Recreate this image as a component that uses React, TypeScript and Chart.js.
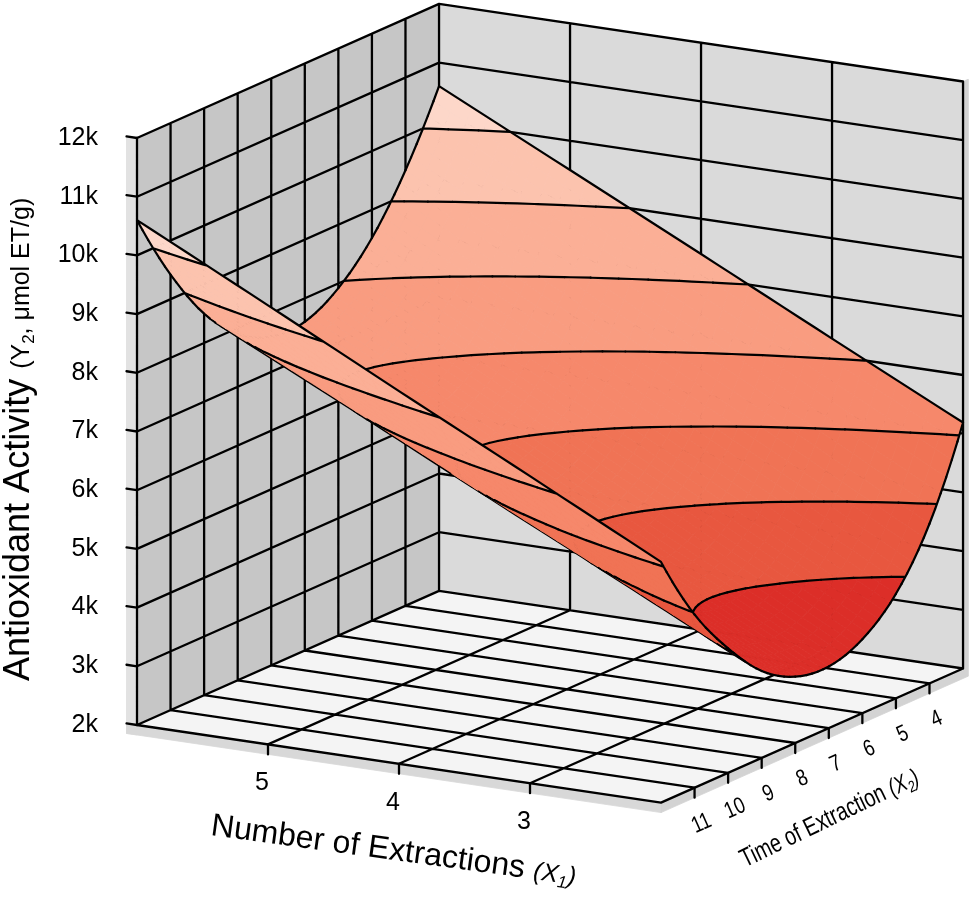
import React, { useEffect, useRef } from "react";
import { Chart, registerables } from "chart.js";

Chart.register(...registerables);

// X1: number of extractions, X2: time of extraction
const extractionCounts = [2, 3, 4, 5, 6];
const extractionTimes = [3, 4, 5, 6, 7, 8, 9, 10, 11, 12];

// Y2 antioxidant activity (µmol ET/g) read along X2 = 3..12, one list per X1
const activityAt2 = [6190, 4720, 3780, 3260, 3050, 3130, 3480, 4120, 4950, 6100];
const activityAt3 = [7290, 5900, 4970, 4430, 4190, 4250, 4590, 5220, 6070, 7230];
const activityAt4 = [8400, 7070, 6150, 5590, 5330, 5370, 5690, 6310, 7190, 8350];
const activityAt5 = [9500, 8250, 7340, 6760, 6460, 6480, 6800, 7410, 8300, 9480];
const activityAt6 = [10600, 9420, 8520, 7920, 7600, 7600, 7900, 8500, 9420, 10600];

const activityTicks = [2000, 3000, 4000, 5000, 6000, 7000, 8000, 9000, 10000, 11000, 12000];
const countTicks = [5, 4, 3];
const timeTicks = [11, 10, 9, 8, 7, 6, 5, 4];
const contourLevels = [3000, 4000, 5000, 6000, 7000, 8000, 9000, 10000, 11000];
const bandColors = [
  "#d02520", "#dc2e28", "#e8573f", "#f07355", "#f6886b",
  "#f99c80", "#fbaf96", "#fcc3ae", "#fdd7c9", "#fee6dc",
];

const activityRows = [activityAt2, activityAt3, activityAt4, activityAt5, activityAt6];

const FONT = '"Liberation Sans", Arial, Helvetica, sans-serif';
const W = 975;
const H = 899;

// orthographic view of the box, in pixels
const PX_X1 = 131; // per unit of X1 towards the front
const DY_X1 = 19.4;
const PX_X2 = 33.56; // per unit of X2 towards the back
const DY_X2 = -14.9;
const PX_PER_UNIT = 0.0587; // per µmol ET/g
const FLOOR_PX = 725; // row of the 2k tick
const CORNER_PX = 137; // column of the front edge of the left wall
const AXIS_W = 126;
const WALL_T1 = 0.08;
const WALL_T2 = 0.15;
const FLOOR_T = 170;
const SUB1 = 8;
const SUB2 = 6;
const GRID_W = 2.3;
const SURFACE_W = 2.2;

const X1_MIN = extractionCounts[0];
const X1_MAX = extractionCounts[extractionCounts.length - 1];
const X2_MIN = extractionTimes[0];
const X2_MAX = extractionTimes[extractionTimes.length - 1];
const Y_MIN = activityTicks[0];
const Y_MAX = activityTicks[activityTicks.length - 1];

type Pt = { x: number | null; y: number | null };
type Node = { x1: number; x2: number; z: number; d: number };
type Layer = { kind: "fill"; color: string; paths: Pt[][] } | { kind: "line"; paths: Pt[][]; width: number };

function project(x1: number, x2: number, y: number): Pt {
  const p = X1_MAX - x1;
  const q = X2_MAX - x2;
  return { x: p * PX_X1 + q * PX_X2, y: y - (p * DY_X1 + q * DY_X2) / PX_PER_UNIT };
}

type V3 = [number, number, number];
const seg = (a: V3, b: V3): Pt[] => [project(...a), project(...b)];
const poly = (cs: V3[]): Pt[] => {
  const p = cs.map((c) => project(...c));
  return [...p, p[0]];
};

function joinPaths(paths: Pt[][]): Pt[] {
  const out: Pt[] = [];
  paths.forEach((p, i) => {
    if (i) out.push({ x: null, y: null });
    out.push(...p);
  });
  return out;
}

// smooth sampler over the read grid (Catmull-Rom)
function makeSampler() {
  const extend = (a: number[]) => {
    const n = a.length;
    return [3 * a[0] - 3 * a[1] + a[2], ...a, 3 * a[n - 1] - 3 * a[n - 2] + a[n - 3]];
  };
  const rows = activityRows.map(extend);
  const n = rows.length;
  const ghost = (r0: number[], r1: number[], r2: number[]) => r0.map((_, k) => 3 * r0[k] - 3 * r1[k] + r2[k]);
  const ext = [ghost(rows[0], rows[1], rows[2]), ...rows, ghost(rows[n - 1], rows[n - 2], rows[n - 3])];
  const cr = (p0: number, p1: number, p2: number, p3: number, f: number) =>
    p1 + 0.5 * f * (p2 - p0 + f * (2 * p0 - 5 * p1 + 4 * p2 - p3 + f * (3 * (p1 - p2) + p3 - p0)));
  const ni = activityRows.length - 1;
  const nj = extractionTimes.length - 1;
  return (s: number, t: number) => {
    const i = Math.max(0, Math.min(ni - 1, Math.floor(s)));
    const j = Math.max(0, Math.min(nj - 1, Math.floor(t)));
    const fi = s - i;
    const fj = t - j;
    const c = [0, 1, 2, 3].map((k) => {
      const r = ext[i + k];
      return cr(r[j], r[j + 1], r[j + 2], r[j + 3], fj);
    });
    return cr(c[0], c[1], c[2], c[3], fi);
  };
}

const lerpNode = (A: Node, B: Node, f: number): Node => ({
  x1: A.x1 + f * (B.x1 - A.x1),
  x2: A.x2 + f * (B.x2 - A.x2),
  z: A.z + f * (B.z - A.z),
  d: A.d + f * (B.d - A.d),
});

function clipNodes(pg: Node[], level: number, above: boolean): Node[] {
  const out: Node[] = [];
  const inside = (n: Node) => (above ? n.z >= level : n.z <= level);
  for (let k = 0; k < pg.length; k++) {
    const A = pg[k];
    const B = pg[(k + 1) % pg.length];
    const ia = inside(A);
    const ib = inside(B);
    if (ia) out.push(A);
    if (ia !== ib) out.push(lerpNode(A, B, (level - A.z) / (B.z - A.z)));
  }
  return out;
}

function march(quad: Node[], key: (n: Node) => number, level: number): Node[][] {
  const pts: Node[] = [];
  for (let k = 0; k < 4; k++) {
    const A = quad[k];
    const B = quad[(k + 1) % 4];
    const ka = key(A);
    const kb = key(B);
    if (ka >= level !== kb >= level) pts.push(lerpNode(A, B, (level - ka) / (kb - ka)));
  }
  const segs: Node[][] = [];
  if (pts.length >= 2) segs.push([pts[0], pts[1]]);
  if (pts.length === 4) segs.push([pts[2], pts[3]]);
  return segs;
}

const toPts = (ns: Node[]) => ns.map((n) => project(n.x1, n.x2, n.z));
const bandOf = (z: number) => contourLevels.filter((l) => z >= l).length;

function buildBox(): Layer[] {
  const layers: Layer[] = [];
  const faces: [string, V3[]][] = [
    ["#e2e2e2", [[X1_MAX, X2_MAX, Y_MAX], [X1_MAX + WALL_T1, X2_MAX, Y_MAX], [X1_MAX + WALL_T1, X2_MAX, Y_MIN - FLOOR_T], [X1_MAX, X2_MAX, Y_MIN - FLOOR_T]]],
    ["#d8d8d8", [[X1_MAX + WALL_T1, X2_MAX, Y_MIN], [X1_MIN, X2_MAX, Y_MIN], [X1_MIN, X2_MAX, Y_MIN - FLOOR_T], [X1_MAX + WALL_T1, X2_MAX, Y_MIN - FLOOR_T]]],
    ["#d3d3d3", [[X1_MIN, X2_MAX, Y_MIN], [X1_MIN, X2_MIN - WALL_T2, Y_MIN], [X1_MIN, X2_MIN - WALL_T2, Y_MIN - FLOOR_T], [X1_MIN, X2_MAX, Y_MIN - FLOOR_T]]],
    ["#d3d3d3", [[X1_MIN, X2_MIN, Y_MAX], [X1_MIN, X2_MIN - WALL_T2, Y_MAX], [X1_MIN, X2_MIN - WALL_T2, Y_MIN], [X1_MIN, X2_MIN, Y_MIN]]],
    ["#c6c6c6", [[X1_MAX, X2_MAX, Y_MIN], [X1_MAX, X2_MIN, Y_MIN], [X1_MAX, X2_MIN, Y_MAX], [X1_MAX, X2_MAX, Y_MAX]]],
    ["#dadada", [[X1_MAX, X2_MIN, Y_MIN], [X1_MIN, X2_MIN, Y_MIN], [X1_MIN, X2_MIN, Y_MAX], [X1_MAX, X2_MIN, Y_MAX]]],
    ["#f4f4f4", [[X1_MAX, X2_MAX, Y_MIN], [X1_MIN, X2_MAX, Y_MIN], [X1_MIN, X2_MIN, Y_MIN], [X1_MAX, X2_MIN, Y_MIN]]],
  ];
  faces.forEach(([color, cs]) => layers.push({ kind: "fill", color, paths: [poly(cs)] }));

  const grid: Pt[][] = [];
  extractionTimes.forEach((t) => {
    grid.push(seg([X1_MAX, t, Y_MIN], [X1_MAX, t, Y_MAX]));
    grid.push(seg([X1_MAX, t, Y_MIN], [X1_MIN, t, Y_MIN]));
  });
  extractionCounts.forEach((c) => {
    grid.push(seg([c, X2_MIN, Y_MIN], [c, X2_MIN, Y_MAX]));
    grid.push(seg([c, X2_MAX, Y_MIN], [c, X2_MIN, Y_MIN]));
  });
  activityTicks.forEach((v) => {
    grid.push(seg([X1_MAX, X2_MAX, v], [X1_MAX, X2_MIN, v]));
    grid.push(seg([X1_MAX, X2_MIN, v], [X1_MIN, X2_MIN, v]));
  });
  layers.push({ kind: "line", paths: grid, width: GRID_W });

  const ticks: Pt[][] = [];
  activityTicks.forEach((v) => ticks.push(seg([X1_MAX + WALL_T1, X2_MAX, v], [X1_MAX, X2_MAX, v])));
  countTicks.forEach((c) => ticks.push(seg([c, X2_MAX, Y_MIN], [c, X2_MAX, Y_MIN - FLOOR_T])));
  timeTicks.forEach((t) => ticks.push(seg([X1_MIN, t, Y_MIN], [X1_MIN, t, Y_MIN - FLOOR_T])));
  layers.push({ kind: "line", paths: ticks, width: GRID_W });
  return layers;
}

function buildSurface(): Layer[] {
  const sample = makeSampler();
  const ni = activityRows.length - 1;
  const nj = extractionTimes.length - 1;
  const step1 = (X1_MAX - X1_MIN) / ni;
  const step2 = (X2_MAX - X2_MIN) / nj;
  const NA = ni * SUB1;
  const NB = nj * SUB2;
  const h = 1e-3;
  const nodes: Node[][] = [];
  for (let b = 0; b <= NB; b++) {
    const row: Node[] = [];
    for (let a = 0; a <= NA; a++) {
      const s = a / SUB1;
      const t = b / SUB2;
      const z = sample(s, t);
      const z1 = (sample(s + h, t) - sample(s - h, t)) / (2 * h * step1);
      const z2 = (sample(s, t + h) - sample(s, t - h)) / (2 * h * step2);
      // screen-space fold indicator (sign change = silhouette)
      const d = PX_X1 * (DY_X2 + z2 * PX_PER_UNIT) - PX_X2 * (DY_X1 + z1 * PX_PER_UNIT);
      row.push({ x1: X1_MIN + s * step1, x2: X2_MIN + t * step2, z, d });
    }
    nodes.push(row);
  }

  // strips from the back (short times) to the front
  const layers: Layer[] = [];
  let pending: Pt[][] = [];
  for (let b = 0; b < NB; b++) {
    const fills = new Map<number, Pt[][]>();
    const lines: Pt[][] = [];
    for (let a = 0; a < NA; a++) {
      const quad = [nodes[b][a], nodes[b][a + 1], nodes[b + 1][a + 1], nodes[b + 1][a]];
      const zs = quad.map((n) => n.z);
      const lo = bandOf(Math.min(...zs));
      const hi = bandOf(Math.max(...zs));
      for (let k = lo; k <= hi; k++) {
        let piece = quad;
        if (k > lo) piece = clipNodes(piece, contourLevels[k - 1], true);
        if (k < hi) piece = clipNodes(piece, contourLevels[k], false);
        if (piece.length < 3) continue;
        const p = toPts(piece);
        if (!fills.has(k)) fills.set(k, []);
        fills.get(k)!.push([...p, p[0]]);
      }
      for (let k = lo; k < hi; k++) march(quad, (n) => n.z, contourLevels[k]).forEach((sg) => lines.push(toPts(sg)));
      march(quad, (n) => n.d, 0).forEach((sg) => lines.push(toPts(sg)));
      if (a === 0) lines.push(toPts([quad[0], quad[3]]));
      if (a === NA - 1) lines.push(toPts([quad[1], quad[2]]));
      if (b === 0) lines.push(toPts([quad[0], quad[1]]));
      if (b === NB - 1) lines.push(toPts([quad[3], quad[2]]));
    }
    [...fills.keys()]
      .sort((p, q) => p - q)
      .forEach((k) => layers.push({ kind: "fill", color: bandColors[k], paths: fills.get(k)! }));
    if (pending.length) layers.push({ kind: "line", paths: pending, width: SURFACE_W });
    pending = lines;
  }
  if (pending.length) layers.push({ kind: "line", paths: pending, width: SURFACE_W });
  return layers;
}

type Run = { text: string; size: number; italic?: boolean; dy?: number };

function drawRuns(ctx: CanvasRenderingContext2D, x: number, y: number, angle: number, runs: Run[], sx = 1) {
  ctx.save();
  ctx.translate(x, y);
  ctx.rotate(angle);
  ctx.scale(sx, 1);
  ctx.textAlign = "left";
  ctx.textBaseline = "alphabetic";
  let pos = 0;
  runs.forEach((r) => {
    ctx.font = `${r.italic ? "italic " : ""}${r.size}px ${FONT}`;
    ctx.fillText(r.text, pos, r.dy ?? 0);
    pos += ctx.measureText(r.text).width;
  });
  ctx.restore();
}

const axisText = {
  id: "axisText",
  afterDraw(chart: Chart) {
    const { ctx } = chart;
    const sx = chart.scales.x;
    const sy = chart.scales.y;
    const toPx = (x1: number, x2: number, v: number): [number, number] => {
      const p = project(x1, x2, v);
      return [sx.getPixelForValue(p.x as number), sy.getPixelForValue(p.y as number)];
    };
    ctx.save();
    ctx.fillStyle = "#000";

    ctx.font = `25px ${FONT}`;
    ctx.textAlign = "center";
    ctx.textBaseline = "middle";
    countTicks.forEach((c) => {
      const [px, py] = toPx(c, X2_MAX, Y_MIN);
      ctx.fillText(String(c), px - 6, py + 39);
    });

    const timeAngle = Math.atan2(DY_X2, PX_X2);
    timeTicks.forEach((t) => {
      const [px, py] = toPx(X1_MIN, t, Y_MIN);
      ctx.save();
      ctx.translate(px + 7, py + 36);
      ctx.rotate(timeAngle);
      ctx.scale(0.8, 1);
      ctx.font = `23px ${FONT}`;
      ctx.fillText(String(t), 0, 0);
      ctx.restore();
    });

    const [lx, ly] = toPx(X1_MAX, X2_MAX, Y_MIN);
    drawRuns(ctx, lx - 108, ly - 44, -Math.PI / 2, [
      { text: "Antioxidant Activity ", size: 36 },
      { text: "(Y", size: 25 },
      { text: "2", size: 17, dy: 5 },
      { text: ", μmol ET/g)", size: 25 },
    ]);

    drawRuns(ctx, lx + 73, ly + 110, 0.135, [
      { text: "Number of Extractions ", size: 32 },
      { text: "(X", size: 25, italic: true },
      { text: "1", size: 17, italic: true, dy: 5 },
      { text: ")", size: 25, italic: true },
    ]);

    const [fx, fy] = toPx(X1_MIN, X2_MAX, Y_MIN);
    drawRuns(
      ctx,
      fx + 84,
      fy + 65,
      -0.45,
      [
        { text: "Time of Extraction ", size: 26 },
        { text: "(X", size: 24, italic: true },
        { text: "2", size: 16, italic: true, dy: 5 },
        { text: ")", size: 24, italic: true },
      ],
      0.76
    );
    ctx.restore();
  },
};

export default function App() {
  const canvasRef = useRef<HTMLCanvasElement>(null);

  useEffect(() => {
    if (!canvasRef.current) return;

    const layers = [...buildBox(), ...buildSurface()];
    const datasets = layers.map((l, i) =>
      l.kind === "fill"
        ? {
            data: joinPaths(l.paths),
            fill: "shape" as const,
            backgroundColor: l.color,
            borderColor: l.color,
            borderWidth: 0.8,
            pointRadius: 0,
            tension: 0,
            spanGaps: false,
            clip: false as const,
            order: -i,
          }
        : {
            data: joinPaths(l.paths),
            fill: false,
            borderColor: "#000",
            borderWidth: l.width,
            borderCapStyle: "round" as const,
            borderJoinStyle: "round" as const,
            pointRadius: 0,
            tension: 0,
            spanGaps: false,
            clip: false as const,
            order: -i,
          }
    );

    const xMin = AXIS_W - CORNER_PX;
    const yTop = Y_MIN + FLOOR_PX / PX_PER_UNIT;
    const yBottom = Y_MIN - (H - FLOOR_PX) / PX_PER_UNIT;

    const chart = new Chart(canvasRef.current, {
      type: "line",
      data: { datasets: datasets as any },
      options: {
        animation: false,
        responsive: true,
        maintainAspectRatio: false,
        events: [],
        layout: { padding: 0 },
        plugins: {
          legend: { display: false },
          tooltip: { enabled: false },
        },
        scales: {
          x: { type: "linear", display: false, min: xMin, max: xMin + (W - AXIS_W) },
          y: {
            type: "linear",
            position: "left",
            min: yBottom,
            max: yTop,
            afterBuildTicks: (s: any) => {
              s.ticks = activityTicks.map((value) => ({ value }));
            },
            afterFit: (s: any) => {
              s.width = AXIS_W;
              s.paddingTop = 0;
              s.paddingBottom = 0;
            },
            ticks: {
              autoSkip: false,
              padding: 28,
              color: "#000",
              font: { family: FONT, size: 25 },
              callback: (v: any) => `${Number(v) / 1000}k`,
            },
            grid: { display: false, drawTicks: false },
            border: { display: false },
          },
        },
      },
      plugins: [axisText],
    });

    return () => chart.destroy();
  }, []);

  return (
    <div style={{ position: "absolute", left: 0, top: 0, width: W, height: H, background: "#fff" }}>
      <canvas ref={canvasRef} />
    </div>
  );
}
